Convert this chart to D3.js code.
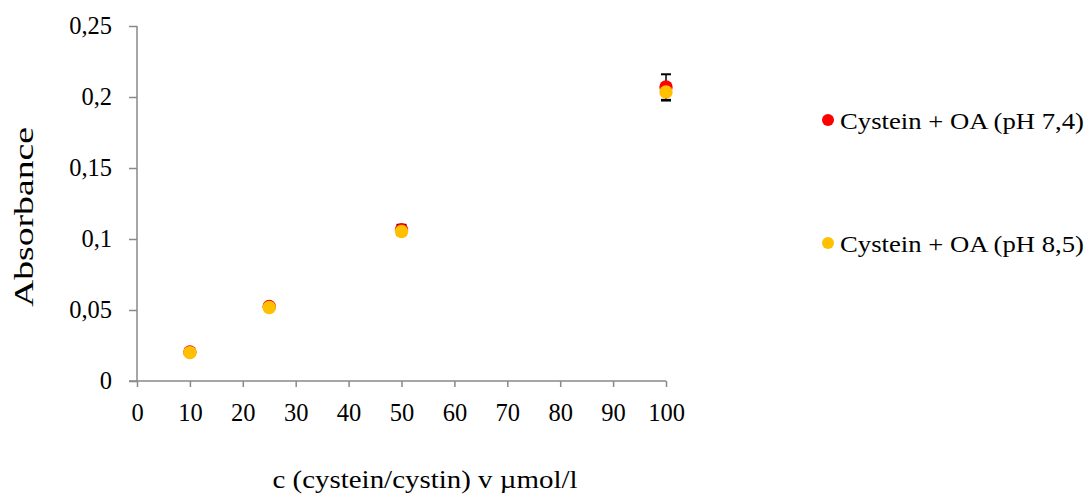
<!DOCTYPE html>
<html>
<head>
<meta charset="utf-8">
<script src="https://cdn.jsdelivr.net/npm/d3@7"></script>
<style>
  body { margin: 0; background: #fff; }
  text { font-family: "Liberation Serif", "Times New Roman", serif; fill: #000; }
</style>
</head>
<body>
<div id="chart"></div>
<script>
// data
const concentrations = [10, 25, 50, 100];
const ph74 = [0.0205, 0.0525, 0.1065, 0.207];
const ph74Err = [0.001, 0.001, 0.0035, 0.009];
const ph85 = [0.020, 0.0518, 0.1053, 0.2035];
const ph85Err = [0.001, 0.001, 0.002, 0.006];
const seriesNames = ["Cystein + OA (pH 7,4)", "Cystein + OA (pH 8,5)"];
const seriesColors = ["#ff0000", "#ffc000"];
const xTicks = [0, 10, 20, 30, 40, 50, 60, 70, 80, 90, 100];
const yTicks = [0, 0.05, 0.1, 0.15, 0.2, 0.25];

const width = 1089, height = 495;
const margin = { top: 26, left: 137 };
const plotW = 529, plotH = 355;

const svg = d3.select("#chart").append("svg")
    .attr("width", width)
    .attr("height", height);

const g = svg.append("g")
    .attr("transform", `translate(${margin.left}, ${margin.top})`);

const xScale = d3.scaleLinear().domain([0, 100]).range([0, plotW]);
const yScale = d3.scaleLinear().domain([0, 0.25]).range([plotH, 0]);

const fmt = d => String(d).replace(".", ",");

// axes
const xAxis = g.append("g")
    .attr("transform", `translate(0, ${plotH})`)
    .call(d3.axisBottom(xScale).tickValues(xTicks).tickSize(6).tickPadding(17).tickFormat(fmt));
const yAxis = g.append("g")
    .call(d3.axisLeft(yScale).tickValues(yTicks).tickSize(8).tickPadding(17).tickFormat(fmt));

[xAxis, yAxis].forEach(ax => {
    ax.select(".domain").attr("stroke", "#898989").attr("stroke-width", 1.5);
    ax.selectAll(".tick line").attr("stroke", "#898989").attr("stroke-width", 1.5);
    ax.selectAll(".tick text")
        .style("font-family", "Liberation Serif, serif")
        .style("font-size", "24.5px")
        .attr("fill", "#000");
});
// plain axis lines, the 0 tick of y runs into the x axis
yAxis.select(".domain").attr("d", `M0,0V${plotH}`);
xAxis.select(".domain").attr("d", `M-8,0H${plotW}`);

// series
const series = [
    { name: seriesNames[0], color: seriesColors[0], values: ph74, err: ph74Err },
    { name: seriesNames[1], color: seriesColors[1], values: ph85, err: ph85Err }
];

series.forEach(s => {
    const pts = concentrations.map((c, i) => ({ x: c, y: s.values[i], e: s.err[i] }));
    const eb = g.append("g");
    pts.forEach(p => {
        const cx = xScale(p.x);
        eb.append("line")
            .attr("x1", cx).attr("x2", cx)
            .attr("y1", yScale(p.y - p.e)).attr("y2", yScale(p.y + p.e))
            .attr("stroke", "#000").attr("stroke-width", 1.5);
        [p.y - p.e, p.y + p.e].forEach(v => {
            eb.append("line")
                .attr("x1", cx - 5).attr("x2", cx + 5)
                .attr("y1", yScale(v)).attr("y2", yScale(v))
                .attr("stroke", "#000").attr("stroke-width", 2);
        });
    });
});

series.forEach(s => {
    g.append("g").selectAll("circle")
        .data(concentrations.map((c, i) => ({ x: c, y: s.values[i] })))
        .enter().append("circle")
        .attr("cx", d => xScale(d.x))
        .attr("cy", d => yScale(d.y))
        .attr("r", 6.7)
        .attr("fill", s.color);
});

// legend
const legend = svg.selectAll(".legend")
    .data(series)
    .enter().append("g")
    .attr("class", "legend")
    .attr("transform", (d, i) => `translate(828, ${120 + i * 123})`);

legend.append("circle")
    .attr("r", 6)
    .attr("fill", d => d.color);

legend.append("text")
    .attr("x", 12)
    .attr("y", 8.5)
    .attr("textLength", 244)
    .attr("lengthAdjust", "spacingAndGlyphs")
    .style("font-size", "24px")
    .text(d => d.name);

// axis titles
svg.append("text")
    .attr("transform", "rotate(-90)")
    .attr("x", -217)
    .attr("y", 33)
    .attr("textLength", 180)
    .attr("lengthAdjust", "spacingAndGlyphs")
    .style("text-anchor", "middle")
    .style("font-size", "28px")
    .text("Absorbance");

svg.append("text")
    .attr("x", 425)
    .attr("y", 488)
    .attr("textLength", 305)
    .attr("lengthAdjust", "spacingAndGlyphs")
    .style("text-anchor", "middle")
    .style("font-size", "26px")
    .text("c (cystein/cystin) v µmol/l");
</script>
</body>
</html>
